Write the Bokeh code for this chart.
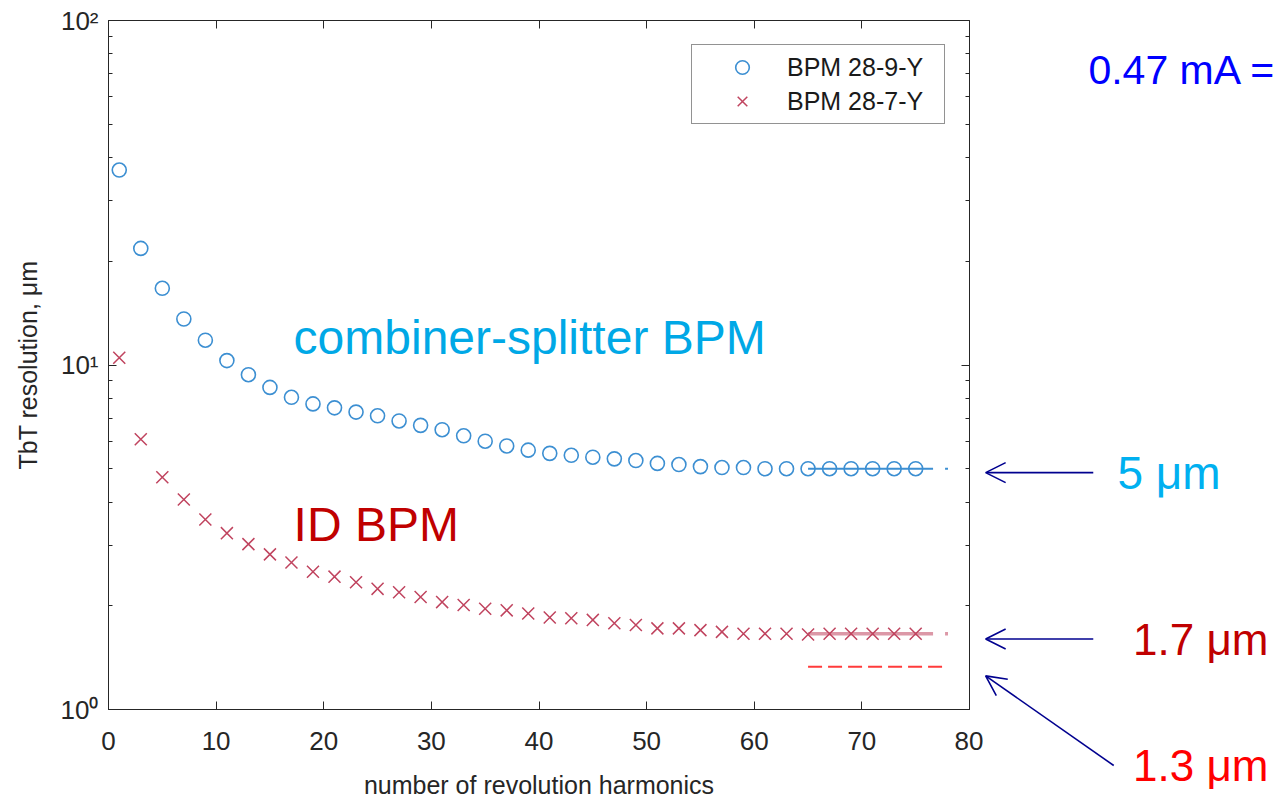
from bokeh.plotting import figure
from bokeh.layouts import row, column
from bokeh.models import (Range1d, FixedTicker, LinearAxis, LogAxis, Label, Arrow,
                          OpenHead, Legend, LegendItem)
from bokeh.embed import file_html
from bokeh.resources import INLINE

# ---------------- data ----------------
harmonics = [1, 3, 5, 7, 9, 11, 13, 15, 17, 19, 21, 23, 25, 27, 29, 31, 33, 35, 37,
             39, 41, 43, 45, 47, 49, 51, 53, 55, 57, 59, 61, 63, 65, 67, 69, 71, 73, 75]
bpm_28_9_y = [36.8, 21.8, 16.7, 13.6, 11.8, 10.3, 9.37, 8.61, 8.06, 7.71, 7.51, 7.30,
              7.12, 6.88, 6.68, 6.49, 6.23, 6.01, 5.82, 5.66, 5.54, 5.47, 5.40, 5.34,
              5.28, 5.18, 5.14, 5.07, 5.04, 5.04, 5.00, 5.00, 5.00, 5.00, 5.00, 5.00,
              5.00, 5.00]
bpm_28_7_y = [10.5, 6.09, 4.72, 4.07, 3.56, 3.25, 3.02, 2.82, 2.67, 2.51, 2.43, 2.34,
              2.24, 2.19, 2.12, 2.05, 2.01, 1.96, 1.94, 1.90, 1.85, 1.84, 1.82, 1.78,
              1.76, 1.72, 1.72, 1.70, 1.68, 1.66, 1.66, 1.66, 1.65, 1.66, 1.66, 1.66,
              1.66, 1.66]
fit_x = [65, 78]
fit_cs = [5.0, 5.0]
fit_id = [1.66, 1.66]
floor_id = [1.33, 1.33]

x_ticks = [0, 10, 20, 30, 40, 50, 60, 70, 80]
y_ticks = [1, 10, 100]
y_tick_labels = {1: "10\u2070", 10: "10\u00b9", 100: "10\u00b2"}
y_minor = [2, 3, 4, 5, 6, 7, 8, 9, 20, 30, 40, 50, 60, 70, 80, 90]

FONT = "Liberation Sans"
AX = "#262626"
BLUE = "#3c8fd2"
RED = "#c0445f"

# ---------------- geometry ----------------
H = 801
LEFT, TOP, BOTTOM = 108, 20, 86
FRAME_W = 861
RIGHT1 = 14
W1 = LEFT + FRAME_W + RIGHT1
W2 = 297
FRAME_H = H - TOP - BOTTOM
px_per_x = FRAME_W / 80.0
px_per_dec = FRAME_H / 2.0

p = figure(width=W1, height=H, output_backend="svg", toolbar_location=None,
           x_range=Range1d(0, 80), y_range=Range1d(1, 100), y_axis_type="log",
           min_border_left=LEFT, min_border_right=RIGHT1, min_border_top=TOP,
           min_border_bottom=BOTTOM, x_axis_label="number of revolution harmonics",
           y_axis_label="TbT resolution, \u03bcm")
p.grid.visible = False
p.outline_line_color = AX
p.background_fill_color = "white"
p.border_fill_color = "white"

def style_axis(ax, labels=True, log=False):
    ax.axis_line_color = AX
    ax.major_tick_line_color = AX
    ax.minor_tick_line_color = AX if log else None
    ax.major_tick_in = 8
    ax.major_tick_out = 0
    ax.minor_tick_in = 4
    ax.minor_tick_out = 0
    ax.major_label_text_font = FONT
    ax.major_label_text_font_size = "26px"
    ax.major_label_text_color = AX
    ax.axis_label_text_font = FONT
    ax.axis_label_text_font_size = "25px"
    ax.axis_label_text_font_style = "normal"
    ax.axis_label_text_color = AX
    if not labels:
        ax.major_label_text_font_size = "0px"
        ax.major_label_text_color = None

p.xaxis.ticker = FixedTicker(ticks=x_ticks)
p.yaxis.ticker = FixedTicker(ticks=y_ticks, minor_ticks=y_minor)
p.yaxis.major_label_overrides = y_tick_labels
for a in p.xaxis:
    style_axis(a)
    a.major_label_standoff = 22
    a.axis_label_standoff = 18
for a in p.yaxis:
    style_axis(a, log=True)
    a.major_label_standoff = 10
    a.axis_label_standoff = 16

top = LinearAxis(ticker=FixedTicker(ticks=x_ticks))
style_axis(top, labels=False)
top.axis_line_color = None
p.add_layout(top, "above")
right = LogAxis(ticker=FixedTicker(ticks=y_ticks, minor_ticks=y_minor))
style_axis(right, labels=False, log=True)
right.axis_line_color = None
p.add_layout(right, "right")

# fits
p.line(fit_x, fit_cs, line_color=BLUE, line_width=2, line_dash="125 12 3 100")
p.line(fit_x, fit_id, line_color=RED, line_width=3.5, line_alpha=0.55,
       line_dash="125 12 3 100")
p.line(fit_x, floor_id, line_color="#ff3b3b", line_width=2, line_dash="14 6")

r1 = p.scatter(harmonics, bpm_28_9_y, marker="circle", size=14, fill_color=None,
               line_color=BLUE, line_width=1.6)
r2 = p.scatter(harmonics, bpm_28_7_y, marker="x", size=17, line_color=RED,
               line_width=1.5)

legend = Legend(items=[LegendItem(label="BPM 28-9-Y", renderers=[r1]),
                       LegendItem(label="BPM 28-7-Y", renderers=[r2])],
                location="top_right", margin=24, padding=5, spacing=0,
                glyph_width=90, glyph_height=34, label_height=34, label_width=152,
                label_standoff=0, label_text_font=FONT,
                label_text_font_size="25px", label_text_color="#1a1a1a",
                border_line_color=AX, border_line_width=1,
                background_fill_color="white", background_fill_alpha=1)
p.add_layout(legend)

def lab(fig, x, y, text, color, size):
    fig.add_layout(Label(x=x, y=y, text=text, text_color=color, text_font=FONT,
                         text_font_size=size, text_baseline="middle",
                         text_align="left"))

lab(p, 17.2, 12.0, "combiner-splitter BPM", "#00a8e6", "48px")
lab(p, 17.2, 3.45, "ID BPM", "#c00000", "48px")

# ------------- annotation panel continuing the same scales -------------
x0 = (W1 - LEFT) / px_per_x
x1 = (W1 + W2 - LEFT) / px_per_x
y_top = 10 ** ((H - BOTTOM) / px_per_dec)
y_bot = 10 ** (-BOTTOM / px_per_dec)
q = figure(width=W2, height=H, output_backend="svg", toolbar_location=None,
           x_range=Range1d(x0, x1), y_range=Range1d(y_bot, y_top), y_axis_type="log",
           min_border=0, min_border_left=0, min_border_right=0, min_border_top=0,
           min_border_bottom=0)
q.axis.visible = False
q.grid.visible = False
q.outline_line_color = None
q.background_fill_color = "white"
q.border_fill_color = "white"

lab(q, 93.75, 5.0, "5 \u03bcm", "#00b0f0", "46px")
lab(q, 95.2, 1.66, "1.7 \u03bcm", "#c00000", "44px")
lab(q, 95.2, 0.718, "1.3 \u03bcm", "#ff0000", "44px")
lab(q, 91.05, 71.8, "0.47 mA =", "#0000ff", "41px")

NAVY = "#00008f"
for (xs, ys, xe, ye) in [(91.5, 5.0, 81.5, 5.0), (91.5, 1.66, 81.5, 1.66),
                         (93.4, 0.718, 81.5, 1.30)]:
    q.add_layout(Arrow(x_start=xs, y_start=ys, x_end=xe, y_end=ye,
                       line_color=NAVY, line_width=1.6,
                       end=OpenHead(size=20, line_color=NAVY, line_width=1.6)))

layout = row(column(p), column(q), spacing=0)
open("out.html", "w").write(file_html(layout, INLINE))
